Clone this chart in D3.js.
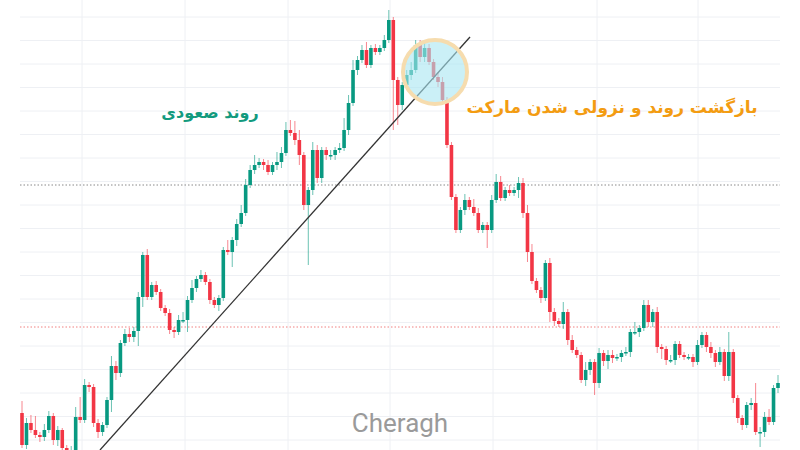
<!DOCTYPE html>
<html><head><meta charset="utf-8">
<script src="https://cdn.jsdelivr.net/npm/d3@7"></script>
<style>body{margin:0;background:#fff}svg{display:block}</style>
</head><body><svg id="chart" width="800" height="450"></svg>
<script>
`use strict`;

// closing prices in four stretches
const closesA = [55,77,70,65,63,70,84,60,70,52,45,50,83,80,115,113,77,68,75,100];
const closesB = [134,127,157,166,163,169,203,245,203,215,208,192,187,170,168,180,180,200,212,221,225,218,200,195,202,250,248,260,276,287,315];
const closesC = [330,335,338,335,328,335,338,347,370,367,360,345,295,310,350,322,350,345,345,350,352,370,397,430,440,450,435,452,448,452,460,480,420,395,415,425,430,455,443,452,438,423,418,400,355,303,270,290,300,293,287,270,275,270,300,318,302,310,307,310,317];
const closesD = [287,248,219,210,202,237,188,179,176,188,160,150,145,120,130,138,117,147,139,145,142,143,147,148,168,168,172,195,178,188,153,151,140,140,156,145,143,143,138,155,165,153,147,138,148,124,148,102,82,75,95,97,68,68,83,78,112,117];
const firstOpen = 87;

// wick lengths above / below the body
const wickHi = [12,5,8,14,3,6,5,3,4,2,3,4,10,20,6,3,3,4,3,3,
  10,5,3,5,6,4,5,3,6,3,4,3,3,4,3,5,8,4,8,3,5,3,3,3,3,3,10,3,5,8,6,
  5,10,4,3,5,3,10,6,8,10,12,10,3,3,8,5,3,3,5,3,5,12,8,10,4,5,8,3,4,3,5,10,3,3,3,5,8,5,5,5,4,3,5,5,3,3,3,3,6,3,8,5,3,3,5,8,6,3,5,3,6,
  5,8,8,3,3,3,5,4,3,10,3,5,3,3,8,3,3,5,3,5,5,3,3,5,3,10,3,5,5,3,5,3,3,5,3,3,3,3,3,5,3,3,5,3,5,3,20,3,3,3,3,5,20,5,5,8,3,8];
const wickLo = [3,4,3,3,5,4,3,5,6,3,3,3,3,3,3,5,4,6,4,3,
  12,7,4,3,5,5,15,10,3,3,3,3,3,4,6,3,3,12,3,4,3,3,4,3,6,3,3,15,6,3,3,
  3,4,3,5,3,3,5,6,3,3,5,10,5,60,5,5,5,5,5,5,3,3,5,3,5,3,3,3,3,3,3,3,50,20,5,5,5,3,5,5,3,3,5,5,3,3,3,3,5,3,3,3,3,18,3,3,3,3,3,3,8,
  5,10,3,3,5,3,10,5,3,5,5,3,3,3,6,5,12,5,5,8,5,3,5,3,5,3,5,3,5,5,6,10,5,3,5,3,3,3,5,3,3,5,5,5,3,5,5,5,5,5,3,5,3,15,5,3,3,5];

const closes = [].concat(closesA, closesB, closesC, closesD);
const candles = closes.map((c, i) => {
  let o = i === 0 ? firstOpen : closes[i - 1];
  return {i: i, o: o, c: c, h: Math.max(o, c) + (wickHi[i] || 3), l: Math.min(o, c) - (wickLo[i] || 3)};
});

const svg = d3.select(`#chart`);
const X = d3.scaleLinear().domain([0, candles.length - 1]).range([22, 778]);
const Y = d3.scaleLinear().domain([50, 500]).range([450, 0]);

// grid
const grid = svg.append(`g`).attr(`stroke`, `#eef0f4`).attr(`stroke-width`, 1);
grid.selectAll(`line.h`).data(d3.range(17, 450, 23.5)).enter().append(`line`)
  .attr(`x1`, 20).attr(`x2`, 780).attr(`y1`, d => d).attr(`y2`, d => d);
grid.selectAll(`line.v`).data([82, 185, 288, 390, 493, 597, 698]).enter().append(`line`)
  .attr(`x1`, d => d).attr(`x2`, d => d).attr(`y1`, 0).attr(`y2`, 450);

svg.append(`line`).attr(`x1`, 20).attr(`x2`, 780).attr(`y1`, 185).attr(`y2`, 185)
  .attr(`stroke`, `#888`).attr(`stroke-dasharray`, `1.5,2`);
svg.append(`line`).attr(`x1`, 20).attr(`x2`, 780).attr(`y1`, 327).attr(`y2`, 327)
  .attr(`stroke`, `#f08080`).attr(`stroke-dasharray`, `1.5,2`);

// candles
const col = d => d.c >= d.o ? `#089981` : `#f23645`;
const g = svg.append(`g`);
g.selectAll(`line`).data(candles).enter().append(`line`)
  .attr(`x1`, d => X(d.i)).attr(`x2`, d => X(d.i))
  .attr(`y1`, d => Y(d.h)).attr(`y2`, d => Y(d.l))
  .attr(`stroke`, col).attr(`stroke-opacity`, .6).attr(`stroke-width`, 1);
g.selectAll(`rect`).data(candles).enter().append(`rect`)
  .attr(`x`, d => X(d.i) - 1.8).attr(`width`, 3.6)
  .attr(`y`, d => Y(Math.max(d.o, d.c)))
  .attr(`height`, d => Math.max(1.5, Math.abs(Y(d.o) - Y(d.c))))
  .attr(`fill`, col);

// trend line + highlight circle
svg.append(`line`).attr(`x1`, 100).attr(`y1`, 450).attr(`x2`, 470).attr(`y2`, 37)
  .attr(`stroke`, `#333`).attr(`stroke-width`, 1.3);
svg.append(`circle`).attr(`cx`, 435).attr(`cy`, 72).attr(`r`, 32)
  .attr(`fill`, `#a9e6f2`).attr(`fill-opacity`, .6)
  .attr(`stroke`, `#f6dcae`).attr(`stroke-width`, 4);

// labels
svg.append(`text`).attr(`x`, 210).attr(`y`, 118).attr(`text-anchor`, `middle`)
  .attr(`fill`, `#129a7e`).attr(`font-family`, `DejaVu Sans`).attr(`font-weight`, `bold`).attr(`font-size`, 16)
  .text(`روند صعودی`);
svg.append(`text`).attr(`x`, 612).attr(`y`, 113).attr(`text-anchor`, `middle`)
  .attr(`fill`, `#f39c12`).attr(`font-family`, `DejaVu Sans`).attr(`font-weight`, `bold`).attr(`font-size`, 17)
  .text(`بازگشت روند و نزولی شدن مارکت`);
svg.append(`text`).attr(`x`, 400).attr(`y`, 432).attr(`text-anchor`, `middle`)
  .attr(`fill`, `#9a9a9a`).attr(`font-family`, `Roboto`).attr(`font-size`, 26)
  .text(`Cheragh`);
</script></body></html>
